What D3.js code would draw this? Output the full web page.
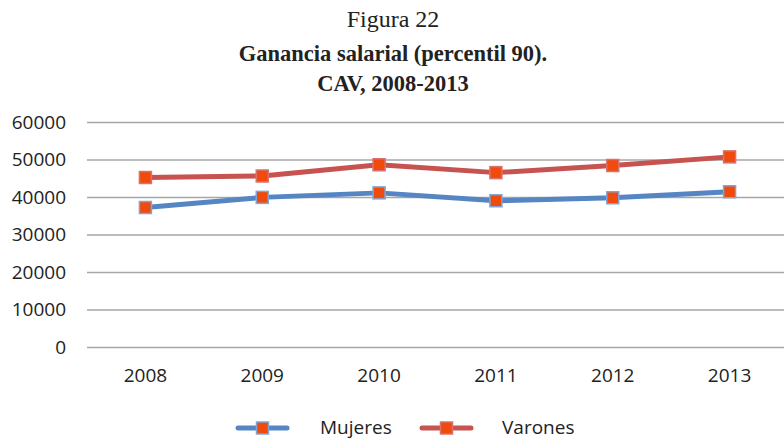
<!DOCTYPE html>
<html>
<head>
<meta charset="utf-8">
<script src="https://d3js.org/d3.v7.min.js"></script>
<style>
  body { margin: 0; background: #fff; }
  svg { display: block; }
</style>
</head>
<body>
<svg width="784" height="441"></svg>
<script>
// Chart data
const years = ["2008", "2009", "2010", "2011", "2012", "2013"];
const mujeres = [37200, 39900, 41100, 39000, 39800, 41400];
const varones = [45200, 45600, 48600, 46500, 48400, 50700];
const yTicks = [0, 10000, 20000, 30000, 40000, 50000, 60000];
const titleLines = ["Figura 22", "Ganancia salarial (percentil 90).", "CAV, 2008-2013"];

const svg = d3.select("svg");
const margin = { left: 87, right: -4, top: 122, bottom: 94 };
const width = 784, height = 441;
const labelFont = "'Open Sans', sans-serif";

const x = d3.scaleBand()
    .domain(years)
    .range([margin.left, width - margin.right]);

const y = d3.scaleLinear()
    .domain([0, 60000])
    .range([height - margin.bottom, margin.top]);

// Title
svg.selectAll(".title")
    .data(titleLines)
    .enter()
    .append("text")
    .attr("x", 393)
    .attr("y", (d, i) => [27, 61, 91][i])
    .attr("text-anchor", "middle")
    .style("font-family", "'Liberation Serif', serif")
    .style("font-size", (d, i) => i === 0 ? "24px" : "22.5px")
    .style("font-weight", (d, i) => i === 0 ? "normal" : "bold")
    .style("fill", "#222")
    .text(d => d);

// Gridlines
const grid = svg.append("g")
    .attr("transform", `translate(${margin.left},0)`)
    .call(d3.axisLeft(y).tickValues(yTicks).tickSize(-(width - margin.left)).tickFormat(""));
grid.select(".domain").remove();
grid.selectAll("line").attr("stroke", "#a6a6a6").attr("stroke-width", 1.5);

// Y labels
const yAxis = svg.append("g")
    .attr("transform", `translate(66,0)`)
    .call(d3.axisLeft(y).tickValues(yTicks).tickSize(0).tickPadding(0).tickFormat(d3.format("d")));
yAxis.select(".domain").remove();
yAxis.selectAll("text")
    .style("font-family", labelFont)
    .style("font-size", "19px")
    .attr("fill", "#222");

// X labels
const xAxis = svg.append("g")
    .attr("transform", `translate(0,${height - margin.bottom})`)
    .call(d3.axisBottom(x).tickSize(0).tickPadding(22));
xAxis.select(".domain").remove();
xAxis.selectAll("text")
    .style("font-family", labelFont)
    .style("font-size", "19px")
    .attr("fill", "#222");

const cx = d => x(d) + x.bandwidth() / 2;

const series = [
    { name: "Mujeres", values: mujeres, color: "#5585c3", border: "#7fa6d6" },
    { name: "Varones", values: varones, color: "#c65350", border: "#d8726e" }
];

const line = d3.line()
    .x((d, i) => cx(years[i]))
    .y(d => y(d));

series.forEach((s) => {
    svg.append("path")
        .datum(s.values)
        .attr("d", line)
        .attr("fill", "none")
        .attr("stroke", s.color)
        .attr("stroke-width", 5)
        .attr("stroke-linejoin", "round");

    svg.selectAll(null)
        .data(s.values)
        .enter()
        .append("rect")
        .attr("x", (d, i) => cx(years[i]) - 6)
        .attr("y", d => y(d) - 6)
        .attr("width", 12)
        .attr("height", 12)
        .attr("fill", "#f04b0c")
        .attr("stroke", s.border)
        .attr("stroke-width", 1.5);
});

// Legend
const legendX = [238, 422];
const legendTextX = [320, 502];
const ly = 428;
series.forEach((s, i) => {
    const g = svg.append("g");
    g.append("line")
        .attr("x1", legendX[i]).attr("x2", legendX[i] + 49)
        .attr("y1", ly).attr("y2", ly)
        .attr("stroke", s.color)
        .attr("stroke-width", 5)
        .attr("stroke-linecap", "round");
    g.append("rect")
        .attr("x", legendX[i] + 24.5 - 6)
        .attr("y", ly - 6)
        .attr("width", 12).attr("height", 12)
        .attr("fill", "#f04b0c")
        .attr("stroke", s.border)
        .attr("stroke-width", 1.5);
    g.append("text")
        .attr("x", legendTextX[i])
        .attr("y", 434)
        .style("font-family", labelFont)
        .style("font-size", "19px")
        .attr("fill", "#222")
        .text(s.name);
});
</script>
</body>
</html>
